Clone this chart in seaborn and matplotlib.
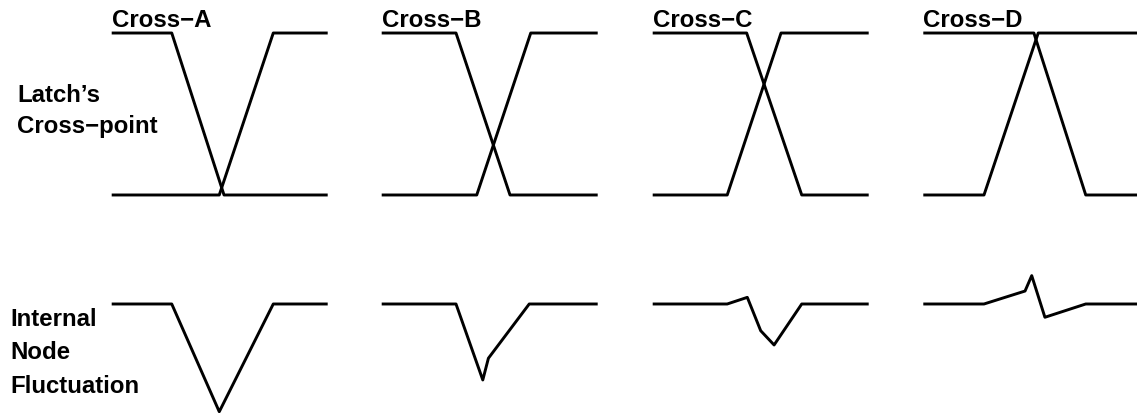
import matplotlib
matplotlib.use("Agg")
import pandas as pd
import seaborn as sns
import matplotlib.pyplot as plt

sns.set_theme(style="white")
plt.rcParams['font.family'] = ['Liberation Sans', 'DejaVu Sans']
plt.rcParams['text.color'] = 'black'

# Four crossing cases, time axis 0..10 per panel
panels = ["Cross−A", "Cross−B", "Cross−C", "Cross−D"]
fall_start = [2.78, 3.44, 4.35, 5.12]
fall_end = [5.20, 5.94, 6.90, 7.52]
rise_start = [4.98, 4.40, 3.45, 2.81]
rise_end = [7.48, 6.90, 5.94, 5.32]

# Internal node fluctuation (normalised voltage, 1 = steady level)
node_t = [
    [0, 2.78, 4.98, 7.48, 10],
    [0, 3.44, 4.68, 4.94, 6.83, 10],
    [0, 3.45, 4.38, 5.00, 5.62, 6.90, 10],
    [0, 2.81, 4.71, 5.02, 5.63, 7.52, 10],
]
node_v = [
    [1, 1, 0.335, 1, 1],
    [1, 1, 0.531, 0.665, 1, 1],
    [1, 1, 1.041, 0.835, 0.747, 1, 1],
    [1, 1, 1.080, 1.175, 0.918, 1, 1],
]

W, H = 1137, 414
fig = plt.figure(figsize=(W / 100, H / 100), dpi=100)

panel_left = [111.7, 381.7, 652.7, 923.3]
panel_w = 216

line_kw = dict(color="black", linewidth=2.1, sort=False, estimator=None)

for i in range(4):
    x0 = panel_left[i] / W
    # top row: the two latch outputs
    ax = fig.add_axes([x0, 1 - 230 / H, panel_w / W, 230 / H])
    fall = pd.DataFrame({"t": [0, fall_start[i], fall_end[i], 10], "v": [1, 1, 0, 0]})
    rise = pd.DataFrame({"t": [0, rise_start[i], rise_end[i], 10], "v": [0, 0, 1, 1]})
    sns.lineplot(data=fall, x="t", y="v", ax=ax, **line_kw)
    sns.lineplot(data=rise, x="t", y="v", ax=ax, **line_kw)
    ax.set_xlim(0, 10)
    ax.set_ylim(-0.21, 1.21)
    ax.axis("off")
    for l in ax.lines:
        l.set_clip_on(False)
        l.set_solid_capstyle("butt")

    # bottom row: internal node
    bx = fig.add_axes([x0, 0, panel_w / W, 184 / H])
    node = pd.DataFrame({"t": node_t[i], "v": node_v[i]})
    sns.lineplot(data=node, x="t", y="v", ax=bx, **line_kw)
    bx.set_xlim(0, 10)
    bx.set_ylim(0.327, 1.463)
    bx.axis("off")
    for l in bx.lines:
        l.set_clip_on(False)
        l.set_solid_capstyle("butt")

    fig.text(x0, 1 - 27.3 / H, panels[i], fontsize=17.3, fontweight="bold",
             va="baseline", color="black")

lab_kw = dict(fontsize=17.3, fontweight="bold", va="baseline", color="black")
fig.text(17 / W, 1 - 101.7 / H, "Latch’s", **lab_kw)
fig.text(17 / W, 1 - 133.3 / H, "Cross−point", **lab_kw)
fig.text(10 / W, 1 - 326 / H, "Internal", **lab_kw)
fig.text(10 / W, 1 - 359 / H, "Node", **lab_kw)
fig.text(10 / W, 1 - 392.7 / H, "Fluctuation", **lab_kw)

fig.savefig("out.png", dpi=100)
